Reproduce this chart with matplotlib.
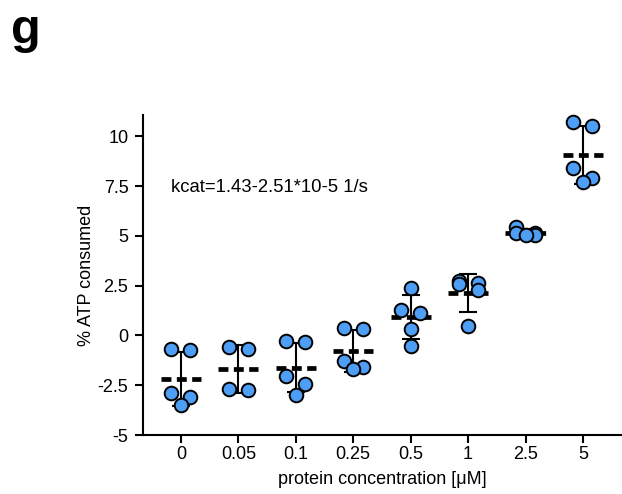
import numpy as np
import matplotlib
matplotlib.use("Agg")
import matplotlib.pyplot as plt

plt.rcParams['font.family'] = ['Liberation Sans', 'DejaVu Sans']

# protein concentration groups (uM) and measured % ATP consumed
concentrations = ['0', '0.05', '0.1', '0.25', '0.5', '1', '2.5', '5']
atp_0 = [-0.67, -0.75, -2.91, -3.07, -3.51]
atp_005 = [-0.58, -0.67, -2.67, -2.76]
atp_01 = [-0.28, -0.32, -2.04, -2.46, -2.97]
atp_025 = [0.38, 0.33, -1.29, -1.59, -1.70]
atp_05 = [2.39, 1.30, 1.14, 0.30, -0.53]
atp_1 = [2.71, 2.63, 2.58, 2.26, 0.45]
atp_25 = [5.45, 5.15, 5.15, 5.05, 5.02]
atp_5 = [10.74, 10.52, 8.40, 7.90, 7.70]
groups = [atp_0, atp_005, atp_01, atp_025, atp_05, atp_1, atp_25, atp_5]

yticks = [-5, -2.5, 0, 2.5, 5, 7.5, 10]
ytick_labels = ['-5', '-2.5', '0', '2.5', '5', '7.5', '10']
kcat_text = 'kcat=1.43-2.51*10-5 1/s'

W, H = 622, 494
fig = plt.figure(figsize=(W / 100, H / 100), dpi=100)
left, right, bottom, top = 143 / W, 1.0, 59 / H, 379 / H
ax = fig.add_axes([left, bottom, right - left, top - bottom])
xlim = (-0.66, 7.68)
ylim = (-5, 11.07)
ax.set_xlim(*xlim)
ax.set_ylim(*ylim)

# pixels per data unit, used for the swarm layout
px_x = W * (right - left) / (xlim[1] - xlim[0])
px_y = H * (top - bottom) / (ylim[1] - ylim[0])


def swarm(values, step=9.5, pair_gap=10.5, min_dist=9.5):
    """Simple beeswarm: close pairs spread symmetrically, singles try centre first."""
    order = np.argsort(values)[::-1]
    vals = np.asarray(values, dtype=float)
    offs = np.zeros(len(vals))
    placed = []
    k = 0
    while k < len(order):
        i = order[k]
        if k + 1 < len(order) and (vals[i] - vals[order[k + 1]]) * px_y < pair_gap:
            j = order[k + 1]
            offs[i], offs[j] = -step, step
            placed += [(-step, vals[i] * px_y), (step, vals[j] * px_y)]
            k += 2
            continue
        for cand in [0, -step, step, -2 * step, 2 * step]:
            ok = all(np.hypot(cand - px, vals[i] * px_y - py) >= min_dist for px, py in placed)
            if ok:
                break
        offs[i] = cand
        placed.append((cand, vals[i] * px_y))
        k += 1
    return offs / px_x


for pos, vals in enumerate(groups):
    vals = np.asarray(vals)
    m = vals.mean()
    sd = vals.std(ddof=1)
    ax.errorbar(pos, m, yerr=sd, fmt='none', ecolor='black', elinewidth=1.5,
                capsize=6.8, capthick=1.5, zorder=2)
    ax.plot([pos - 0.35, pos + 0.35], [m, m], color='black', lw=3.4,
            ls=(0, (2.1, 1.15)), dash_capstyle='butt', zorder=3)
    ax.plot(pos + swarm(vals), vals, 'o', ms=9.8, mfc='#4F9EF5', mec='black',
            mew=1.4, ls='none', zorder=4, clip_on=False)

ax.text(-0.18, 7.45, kcat_text, fontsize=13.3, ha='left', va='center')

ax.set_xticks(range(len(concentrations)))
ax.set_xticklabels(concentrations)
ax.set_yticks(yticks)
ax.set_yticklabels(ytick_labels)
ax.tick_params(axis='both', direction='out', length=5.5, width=1.5, labelsize=13)
ax.tick_params(axis='x', pad=2.5)
ax.tick_params(axis='y', pad=5)
for side in ['top', 'right']:
    ax.spines[side].set_visible(False)
for side in ['left', 'bottom']:
    ax.spines[side].set_linewidth(1.5)

ax.set_xlabel('protein concentration [μM]', fontsize=13, labelpad=6)
ax.set_ylabel('% ATP consumed', fontsize=13, labelpad=2)

fig.text(11 / W, 1 - 43 / H, 'g', fontsize=35, fontweight='bold', ha='left', va='baseline')

fig.savefig('out.png', dpi=100)
